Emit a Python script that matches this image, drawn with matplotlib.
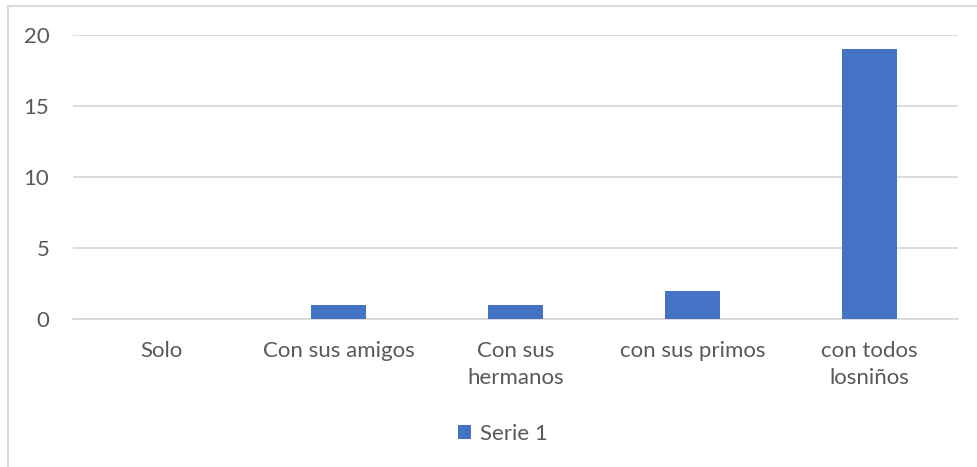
import numpy as np
import matplotlib.pyplot as plt
from matplotlib.patches import Rectangle

# datos del grafico
categorias = ["Solo", "Con sus amigos", "Con sus\nhermanos", "con sus primos", "con todos\nlosniños"]
serie1 = [0, 1, 1, 2, 19]
yticks = [0, 5, 10, 15, 20]

plt.rcParams['font.family'] = ['Lato', 'DejaVu Sans']
gris_texto = '#595959'
gris_linea = '#d9d9d9'
azul = '#4472c4'

fig = plt.figure(figsize=(9.77, 4.67), dpi=100)
ax = fig.add_axes([73/977, 1-319/467, (958-73)/977, (319-35)/467])

x = np.arange(len(categorias))
ax.bar(x, serie1, width=0.31, color=azul, label='Serie 1', zorder=3)

ax.set_xlim(-0.5, len(categorias)-0.5)
ax.set_ylim(0, 20)
ax.set_yticks(yticks)
ax.set_yticklabels([str(v) for v in yticks])
ax.set_xticks(x)
ax.set_xticklabels(categorias, linespacing=1.45)

ax.grid(axis='y', color=gris_linea, linewidth=1.3, zorder=0)
for s in ['top', 'right', 'left']:
    ax.spines[s].set_visible(False)
ax.spines['bottom'].set_color(gris_linea)
ax.spines['bottom'].set_linewidth(1.3)
ax.tick_params(axis='both', length=0, colors=gris_texto, labelsize=16)
ax.tick_params(axis='y', pad=17)
ax.tick_params(axis='x', pad=16)

leg = fig.legend(loc='center', bbox_to_anchor=(503/977, 1-434/467), frameon=False,
                 fontsize=16, handlelength=0.6, handleheight=0.6, handletextpad=0.4)
for t in leg.get_texts():
    t.set_color(gris_texto)

# borde del grafico
fig.patches.append(Rectangle((8/977, -0.1), 1.0, 1.1-6/467, transform=fig.transFigure,
                             fill=False, edgecolor=gris_linea, linewidth=1.5))

fig.savefig('out.png', dpi=100)
